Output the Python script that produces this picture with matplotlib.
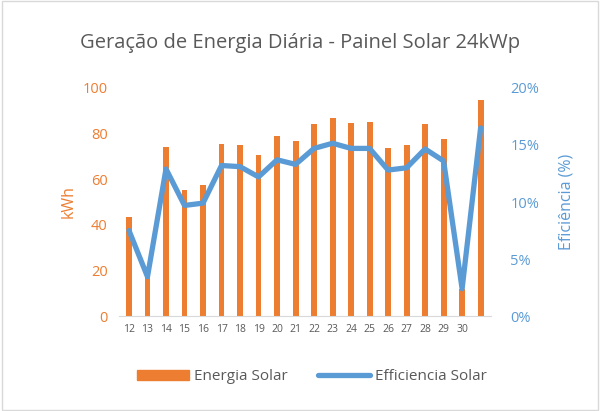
import numpy as np
import matplotlib.pyplot as plt
from matplotlib.lines import Line2D
from matplotlib.patches import Patch

plt.rcParams['font.family'] = ['Open Sans', 'DejaVu Sans']

# dados
dias = ['12', '13', '14', '15', '16', '17', '18', '19', '20', '21',
        '22', '23', '24', '25', '26', '27', '28', '29', '30', '']
energia = [43.4, 17.5, 74, 55.3, 57.3, 75.4, 75, 70.5, 79, 76.6,
           84.2, 87, 84.8, 85, 73.5, 74.9, 84.2, 77.8, 12, 94.7]
eficiencia = [7.5, 3.45, 12.9, 9.7, 9.9, 13.2, 13.1, 12.2, 13.7, 13.3,
              14.7, 15.15, 14.7, 14.7, 12.8, 13.0, 14.65, 13.6, 2.4, 16.5]

laranja = '#ED7D31'
azul = '#5B9BD5'
cinza = '#595959'

fig = plt.figure(figsize=(6, 4.11), dpi=100)
fig.patches.append(plt.Rectangle((0.003, 0.003), 0.994, 0.994, transform=fig.transFigure,
                                 fill=False, edgecolor='#D9D9D9', linewidth=1))
ax = fig.add_axes([0.198, 0.231, 0.62, 0.555])
x = np.arange(len(dias))

ax.bar(x, energia, width=0.32, color=laranja, zorder=2)
ax.set_ylim(0, 100)
ax.set_yticks(range(0, 101, 20))
ax.set_xlim(-0.55, len(dias) - 0.45)
ax.set_xticks(x)
ax.set_xticklabels(dias, fontsize=7.5, color=cinza)
ax.tick_params(axis='y', colors=laranja, labelsize=10.5, length=0, pad=8)
ax.tick_params(axis='x', length=0, pad=6)
ax.set_ylabel('kWh', color=laranja, fontsize=11.5, labelpad=4)
for s in ['top', 'right', 'left']:
    ax.spines[s].set_visible(False)
ax.spines['bottom'].set_color('#D9D9D9')

ax2 = ax.twinx()
ax2.plot(x, eficiencia, color=azul, linewidth=3.8, solid_joinstyle='round',
         solid_capstyle='round', zorder=3)
ax2.set_ylim(0, 20)
ax2.set_yticks(range(0, 21, 5))
ax2.set_yticklabels([f'{v}%' for v in range(0, 21, 5)])
ax2.tick_params(axis='y', colors=azul, labelsize=10.5, length=0, pad=14)
ax2.set_ylabel('Eficiência (%)', color=azul, fontsize=11.5, labelpad=14)
for s in ['top', 'right', 'left', 'bottom']:
    ax2.spines[s].set_visible(False)

fig.text(0.5, 0.895, 'Geração de Energia Diária - Painel Solar 24kWp',
         ha='center', va='center', fontsize=14.5, color=cinza)

handles = [Patch(color=laranja), Line2D([0], [0], color=azul, linewidth=3.8, solid_capstyle='round')]
fig.legend(handles, ['Energia Solar', 'Efficiencia Solar'], loc='center',
           bbox_to_anchor=(0.52, 0.083), ncol=2, frameon=False, fontsize=11,
           labelcolor=cinza, handlelength=3.4, handleheight=0.7, columnspacing=2.0,
           handletextpad=0.3)

fig.savefig('out.png', dpi=100)
